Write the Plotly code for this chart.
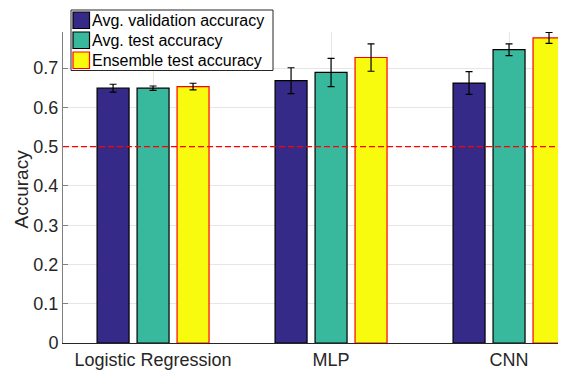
import plotly.graph_objects as go

categories = ["Logistic Regression", "MLP", "CNN"]
series_names = ["Avg. validation accuracy", "Avg. test accuracy", "Ensemble test accuracy"]
val_acc = [0.649, 0.668, 0.662]
val_err = [0.010, 0.033, 0.029]
test_acc = [0.649, 0.689, 0.747]
test_err = [0.0055, 0.036, 0.015]
ens_acc = [0.653, 0.727, 0.777]
ens_err = [0.0085, 0.035, 0.014]
y_ticks = [0, 0.1, 0.2, 0.3, 0.4, 0.5, 0.6, 0.7]
chance_level = 0.5

fills = ["#352a87", "#38b99e", "#f9fb0e"]
edges = ["#000000", "#000000", "#ff0000"]
values = [val_acc, test_acc, ens_acc]
errors = [val_err, test_err, ens_err]

# the page body has an 8px margin, so the figure is drawn 8px smaller
OFF = 8
W, H = 566 - OFF, 371 - OFF
ML, MR, MT, MB = 63 - OFF, 0, 32 - OFF, 28
PW, PH = W - ML - MR, H - MT - MB


def px_x(px):
    return (px - OFF - ML) / PW


def px_y(py):
    return (OFF + H - MB - py) / PH


font = "Liberation Sans, Arial, Helvetica, sans-serif"
fig = go.Figure()
for name, v, e, fc, ec in zip(series_names, values, errors, fills, edges):
    fig.add_trace(go.Bar(
        x=categories, y=v, name=name, showlegend=False,
        marker=dict(color=fc, line=dict(color=ec, width=1.2)),
        error_y=dict(type="data", array=e, visible=True, color="#000000",
                     thickness=1.2, width=3.5),
    ))

fig.add_shape(type="line", xref="paper", yref="y", x0=0, x1=1,
              y0=chance_level, y1=chance_level,
              line=dict(color="#ff0000", width=1.2, dash="6px,3px"), layer="above")

# legend box (drawn manually to match the compact original legend)
fig.add_shape(type="rect", xref="paper", yref="paper",
              x0=px_x(71), x1=px_x(273), y0=px_y(70.5), y1=px_y(10),
              line=dict(color="#262626", width=1), fillcolor="white", layer="above")
row_tops = [12, 32, 52]
for name, fc, ec, top in zip(series_names, fills, edges, row_tops):
    fig.add_shape(type="rect", xref="paper", yref="paper",
                  x0=px_x(73), x1=px_x(89.5), y0=px_y(top + 16.5), y1=px_y(top),
                  line=dict(color=ec, width=1.2), fillcolor=fc, layer="above")
    fig.add_annotation(xref="paper", yref="paper", x=px_x(90), y=px_y(top + 8.5),
                       xanchor="left", yanchor="middle", text=name, showarrow=False,
                       font=dict(family=font, size=16, color="#000000"))

# y-axis title
fig.add_annotation(xref="paper", yref="paper", x=px_x(20.5), y=px_y(189),
                   xanchor="center", yanchor="middle", text="Accuracy", textangle=-90,
                   showarrow=False, font=dict(family=font, size=19, color="#262626"))

fig.update_layout(
    width=W, height=H,
    margin=dict(l=ML, r=MR, t=MT, b=MB, autoexpand=False),
    paper_bgcolor="white", plot_bgcolor="white",
    barmode="group", bargap=0.326, bargroupgap=0.2,
    font=dict(family=font, size=18, color="#262626"),
    showlegend=False,
    xaxis=dict(type="category", range=[-0.506, 2.32], automargin=False,
               showgrid=True, gridcolor="#e6e6e6", gridwidth=1,
               showline=True, linecolor="#262626", linewidth=1,
               ticks="", tickfont=dict(size=18, color="#262626"), zeroline=False),
    yaxis=dict(range=[0, 0.792], tickvals=y_ticks, automargin=False,
               ticktext=[("%g" % t) for t in y_ticks],
               showgrid=True, gridcolor="#e6e6e6", gridwidth=1,
               showline=True, linecolor="#808080", linewidth=1,
               ticks="inside", ticklen=5, tickcolor="#808080",
               tickfont=dict(size=18, color="#262626"), zeroline=False),
)

fig.write_html("out.html")
